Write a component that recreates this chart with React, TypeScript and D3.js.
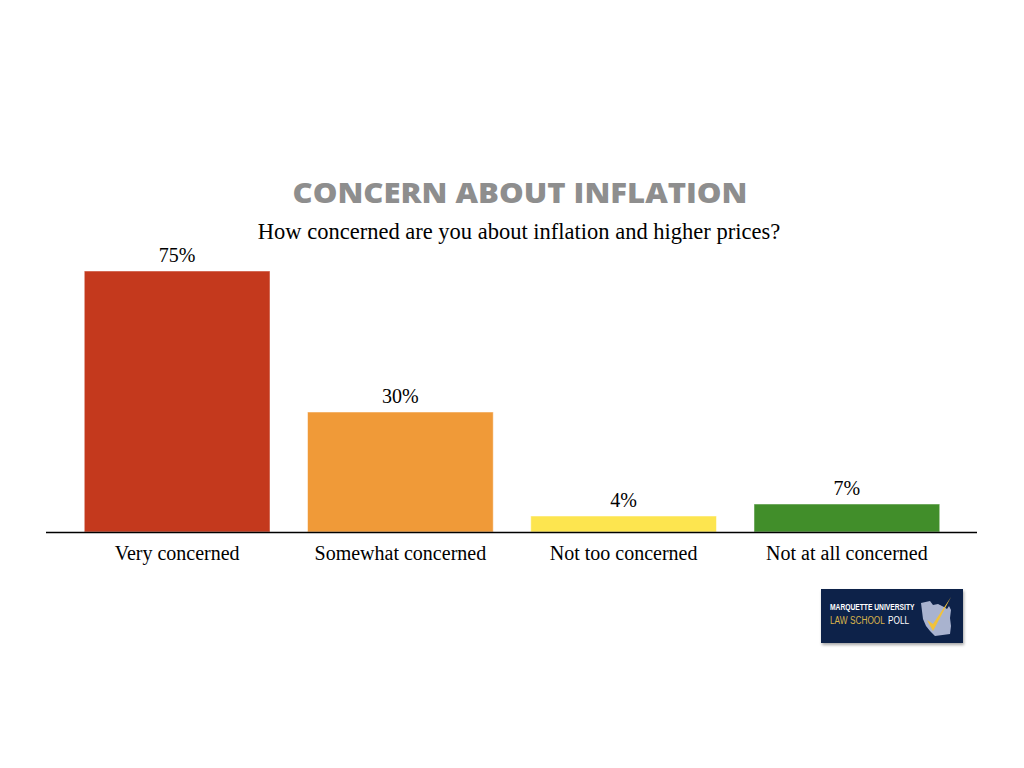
import React from "react";
import * as d3 from "d3";

const categories = ["Very concerned", "Somewhat concerned", "Not too concerned", "Not at all concerned"];
const values = [75, 30, 4, 7];
const colors = ["#C4391D", "#F09A38", "#FDE54F", "#418E2A"];
const title = "CONCERN ABOUT INFLATION";
const subtitle = "How concerned are you about inflation and higher prices?";

export default function App() {
  const W = 1024, H = 768;
  const baseY = 532;
  const x = d3.scaleBand<string>().domain(categories).range([65.5, 958.5]).paddingInner(0.168).paddingOuter(0.084);
  // axis visually capped (tallest bar truncated in the original)
  const y = d3.scaleLinear().domain([0, 65.25]).range([baseY, 271]).clamp(true);
  const serif = "'Liberation Serif', 'Times New Roman', serif";
  const wi = "M921,603 L930,601 L933,605 L938,604 L944,607 L947,609 L949,606 L951,610 L950,618 L951,626 L950,634 L935,636 L930,631 L926,626 L923,619 L922,611 Z";
  const sans = "'Liberation Sans', Arial, sans-serif";
  return (
    <svg width={W} height={H} style={{ position: "absolute", left: 0, top: 0, background: "#fff" }}>
      <defs>
        <filter id="sh" x="-10%" y="-10%" width="130%" height="140%">
          <feDropShadow dx="1" dy="2" stdDeviation="1.5" floodColor="#000" floodOpacity="0.35" />
        </filter>
      </defs>
      <text x={520} y={203} textAnchor="middle" fill="#8E8E8E" fontFamily="'Open Sans', 'DejaVu Sans', sans-serif" fontWeight={800} fontSize={28} textLength={455} lengthAdjust="spacingAndGlyphs">{title}</text>
      <text x={519} y={239} textAnchor="middle" fill="#000" fontFamily={serif} fontSize={22.5}>{subtitle}</text>
      {categories.map((c, i) => (
        <g key={c}>
          <rect x={x(c)} y={y(values[i])} width={x.bandwidth()} height={baseY - y(values[i])} fill={colors[i]} stroke="#fff" strokeOpacity={0.5} strokeWidth={1} />
          <text x={(x(c) as number) + x.bandwidth() / 2} y={y(values[i]) - 9} textAnchor="middle" fontFamily={serif} fontSize={20} fill="#000">{values[i]}%</text>
          <text x={(x(c) as number) + x.bandwidth() / 2} y={560} textAnchor="middle" fontFamily={serif} fontSize={20} fill="#000">{c}</text>
        </g>
      ))}
      <line x1={46} x2={977} y1={baseY + 0.5} y2={baseY + 0.5} stroke="#000" strokeWidth={1.5} />
      <g>
        <rect x={821} y={589} width={142} height={54} fill="#10244A" filter="url(#sh)" />
        <path d={wi} fill="#A9B3CF" />
        <path d="M927,620 L933,631 L951,597 L933,624 Z" fill="#F2C23A" />
        <text transform="translate(830,610) scale(0.79,1)" fill="#fff" fontFamily={sans} fontWeight={700} fontSize={8.5}>MARQUETTE UNIVERSITY</text>
        <text transform="translate(830,624) scale(0.72,1)" fill="#D9B34B" fontFamily={sans} fontSize={11.5}>LAW SCHOOL</text>
        <text transform="translate(888,624) scale(0.72,1)" fill="#fff" fontFamily={sans} fontSize={11.5}>POLL</text>
      </g>
    </svg>
  );
}
